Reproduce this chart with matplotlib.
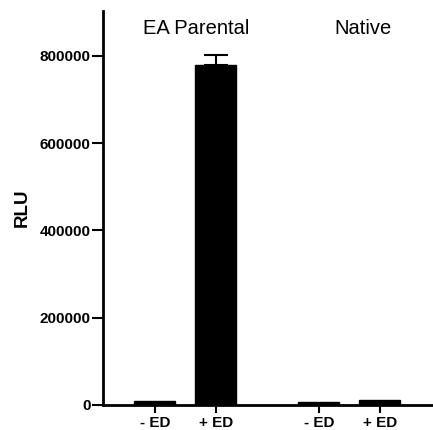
import matplotlib
matplotlib.use("Agg")
import matplotlib.pyplot as plt

plt.rcParams["font.family"] = ["Liberation Sans", "DejaVu Sans"]

# data
conditions = ["- ED", "+ ED", "- ED", "+ ED"]
positions = [0, 1, 2.69, 3.69]
rlu = [10000, 780000, 8000, 11000]
rlu_err = [0, 22000, 0, 0]
groups = ["EA Parental", "Native"]
group_label_x = [0.67, 3.41]
y_ticks = [0, 200000, 400000, 600000, 800000]

fig = plt.figure(figsize=(4.33, 4.30), dpi=100)
ax = fig.add_axes([103 / 433, 25 / 430, 1 - 103 / 433, 394 / 430])

ax.bar(positions, rlu, width=0.67, color="black", edgecolor="black")
ax.errorbar(positions[1], rlu[1], yerr=[[0], [rlu_err[1]]], fmt="none",
            ecolor="black", elinewidth=1.5, capsize=8.5, capthick=1.5)

for label, x in zip(groups, group_label_x):
    ax.text(x, 864000, label, ha="center", va="center", fontsize=14.5)

ax.set_xlim(-0.85, 4.56)
ax.set_ylim(0, 903000)
ax.set_yticks(y_ticks)
ax.set_yticklabels([str(t) for t in y_ticks], fontweight="bold", fontsize=11)
ax.set_xticks(positions)
ax.set_xticklabels(conditions, fontweight="bold", fontsize=11)
ax.set_ylabel("RLU", fontweight="bold", fontsize=13.5, labelpad=6)

for side in ["top", "right"]:
    ax.spines[side].set_visible(False)
for side in ["left", "bottom"]:
    ax.spines[side].set_linewidth(2)
ax.tick_params(axis="y", length=8, width=1.5, pad=1)
ax.tick_params(axis="x", length=6, width=1.5, pad=2)

fig.savefig("out.png", dpi=100)
